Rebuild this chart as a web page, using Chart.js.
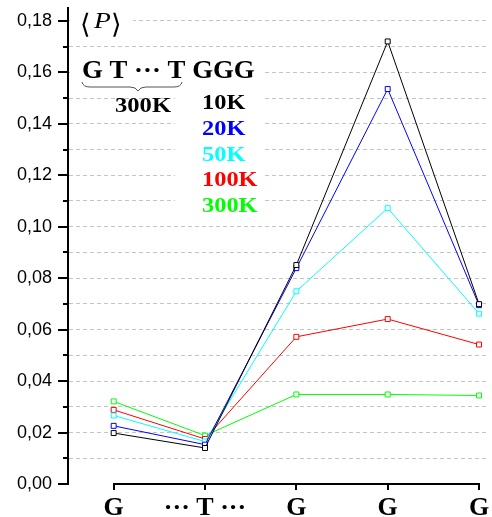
<!DOCTYPE html>
<html>
<head>
<meta charset="utf-8">
<script src="https://cdn.jsdelivr.net/npm/chart.js@4/dist/chart.umd.min.js"></script>
<style>
  html, body { margin: 0; padding: 0; background: #fff; }
</style>
</head>
<body>
<canvas id="probChart" width="492" height="517"></canvas>
<script>
// categories along the sequence
const categories = ['G', '\u00B7\u00B7\u00B7 T \u00B7\u00B7\u00B7', 'G', 'G', 'G'];

// temperatures and their colours
const seriesNames = ['10K', '20K', '50K', '100K', '300K'];
const seriesColors = ['#000000', '#0000ff', '#00ffff', '#ff0000', '#00ff00'];

// <P> per site
const p10K  = [0.0198, 0.0140, 0.0851, 0.1720, 0.0699];
const p20K  = [0.0226, 0.0153, 0.0839, 0.1535, 0.0695];
const p50K  = [0.0266, 0.0165, 0.0749, 0.1072, 0.0662];
const p100K = [0.0288, 0.0175, 0.0572, 0.0641, 0.0542];
const p300K = [0.0321, 0.0188, 0.0348, 0.0348, 0.0344];
const seriesValues = [p10K, p20K, p50K, p100K, p300K];

// y ticks (labels every 0.02, minor every 0.01)
const yTickValues = [0, 0.01, 0.02, 0.03, 0.04, 0.05, 0.06, 0.07, 0.08, 0.09,
                     0.10, 0.11, 0.12, 0.13, 0.14, 0.15, 0.16, 0.17, 0.18];

const datasets = seriesNames.map((name, s) => ({
    label: name,
    data: seriesValues[s].map((v, i) => ({ x: i, y: v })),
    borderColor: seriesColors[s],
    borderWidth: 1,
    pointStyle: 'rect',
    pointRadius: 3.5,
    pointBorderWidth: 1,
    pointBackgroundColor: '#ffffff',
    pointBorderColor: seriesColors[s],
    tension: 0
}));

// text, brace, hand-drawn ticks and the offset x axis line
const decorations = {
    id: 'decorations',
    afterDraw(chart) {
        const ctx = chart.ctx;
        const ys = chart.scales.y;
        const area = chart.chartArea;
        const left = area.left;
        ctx.save();
        ctx.setLineDash([]);

        // white boxes behind the text (hide grid lines)
        ctx.fillStyle = '#ffffff';
        ctx.fillRect(70, 8, 63, 27);
        ctx.fillRect(70, 56, 192, 37);
        ctx.fillRect(175, 88, 87, 128);

        // y tick marks
        ctx.fillStyle = '#000000';
        yTickValues.forEach((v, i) => {
            const py = Math.round(ys.getPixelForValue(v));
            const len = i % 2 === 0 ? 10 : 5;
            ctx.fillRect(left - len, py - 1, len, 2);
        });

        // x axis line from first to last category, with tick marks
        const pts = chart.getDatasetMeta(0).data;
        const y0 = Math.round(area.bottom);
        const xa = Math.round(pts[0].x);
        const xb = Math.round(pts[pts.length - 1].x);
        ctx.fillStyle = '#000000';
        ctx.fillRect(xa - 1, y0 - 1, xb - xa + 2, 2);
        pts.forEach(p => {
            ctx.fillRect(Math.round(p.x) - 1, y0, 2, 6);
        });

        // <P>
        ctx.fillStyle = '#000';
        ctx.textBaseline = 'alphabetic';
        ctx.font = '27px "DejaVu Serif"';
        ctx.fillText('\u27E8', 80, 33);
        ctx.fillText('\u27E9', 111, 33);
        const wideText = (txt, x, y, sx) => {
            ctx.save();
            ctx.translate(x, y);
            ctx.scale(sx, 1);
            ctx.fillText(txt, 0, 0);
            ctx.restore();
        };
        ctx.font = 'italic 23px "Liberation Serif"';
        wideText('P', 94, 28, 1.2);

        // sequence title
        ctx.font = 'bold 26px "Liberation Serif"';
        wideText('G T \u00B7\u00B7\u00B7 T GGG', 82, 78, 1.03);

        // brace under G T ... T
        ctx.strokeStyle = '#555';
        ctx.lineWidth = 1;
        ctx.beginPath();
        ctx.moveTo(82, 82);
        ctx.quadraticCurveTo(83, 87, 90, 87);
        ctx.lineTo(130, 87);
        ctx.quadraticCurveTo(136, 87, 138, 91);
        ctx.quadraticCurveTo(140, 87, 146, 87);
        ctx.lineTo(174, 87);
        ctx.quadraticCurveTo(181, 87, 182, 82);
        ctx.stroke();

        ctx.font = 'bold 20px "Liberation Serif"';
        ctx.fillStyle = '#000';
        wideText('300K', 115, 112, 1.23);

        // legend labels
        seriesNames.forEach((name, s) => {
            ctx.fillStyle = seriesColors[s];
            wideText(name, 202, 109 + s * 25.8, 1.22);
        });

        ctx.restore();
    }
};

new Chart(document.getElementById('probChart'), {
    type: 'line',
    data: { datasets: datasets },
    plugins: [decorations],
    options: {
        responsive: false,
        animation: false,
        layout: { padding: { top: 8, right: 0, left: 0, bottom: 0 } },
        plugins: {
            legend: { display: false },
            tooltip: { enabled: false }
        },
        scales: {
            x: {
                type: 'linear',
                min: -0.5,
                max: 4.087,
                afterBuildTicks: (scale) => {
                    scale.ticks = categories.map((c, i) => ({ value: i }));
                },
                afterFit: (scale) => {
                    scale.height = 33;
                    scale.paddingLeft = 0;
                    scale.paddingRight = 0;
                },
                grid: { display: false },
                border: { display: false },
                ticks: {
                    autoSkip: false,
                    maxRotation: 0,
                    padding: 1,
                    color: '#000',
                    font: { family: '"Liberation Serif"', size: 26, weight: 'bold' },
                    callback: (v) => categories[v]
                }
            },
            y: {
                min: 0,
                max: 0.185,
                afterBuildTicks: (scale) => {
                    scale.ticks = yTickValues.map(v => ({ value: v }));
                },
                afterFit: (scale) => {
                    scale.width = 68;
                    scale.paddingTop = 0;
                    scale.paddingBottom = 0;
                },
                grid: {
                    drawTicks: false,
                    color: (c) => (c.tick && c.tick.value === 0) ? 'rgba(0,0,0,0)' : '#c4c4c4',
                    lineWidth: 1
                },
                border: { display: true, color: '#000', width: 2, dash: [4, 3] },
                ticks: {
                    padding: 16,
                    color: '#000',
                    font: { family: '"Liberation Sans"', size: 18 },
                    callback: (v, i) => (i % 2 === 0 ? v.toFixed(2).replace('.', ',') : '')
                }
            }
        }
    }
});
</script>
</body>
</html>
